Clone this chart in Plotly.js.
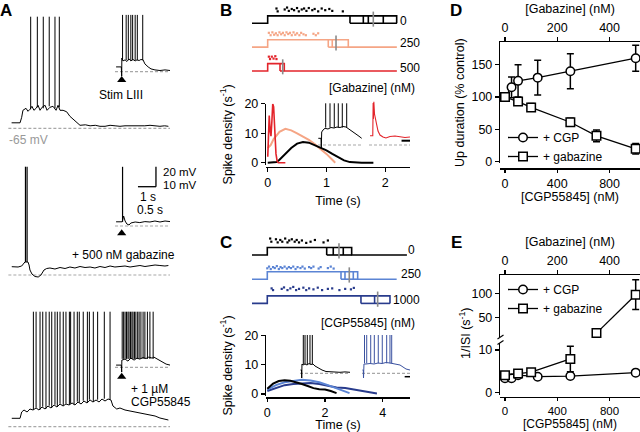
<!DOCTYPE html>
<html><head><meta charset="utf-8">
<script src="https://cdn.plot.ly/plotly-3.0.1.min.js"></script>
<style>html,body{margin:0;padding:0;background:#fff}#chart{width:640px;height:432px}</style>
</head><body><div id="chart"></div>
<script>
// ================= DATA =================
const REST_MV = -65;
// Panel A – whole-cell traces [time (s), Vm (mV)]
const a1Trace = [[0.2,-59.5],[0.67,-59.5],[0.76,-54],[0.83,-47],[1.0,-45],[1.11,-48],[1.22,-46],[1.33,-43],[1.44,-47],[1.56,-45],[1.67,-42],[1.78,-47],[1.89,-44],[2.06,-42],[2.17,-47],[2.33,-44],[2.5,-43],[2.67,-47],[2.78,-42],[2.89,-47],[3.06,-47],[3.26,-48.5],[3.44,-53],[3.61,-56],[3.78,-59],[4.0,-62],[4.3,-61.5],[4.56,-62.5],[4.85,-62],[5.11,-63],[5.39,-63],[5.67,-62],[5.95,-62.5],[6.22,-63],[6.5,-62.5],[6.78,-62.5],[7.05,-63],[7.33,-63],[7.6,-62.5],[7.89,-62],[8.15,-62.5],[8.44,-63],[8.7,-62.5],[8.91,-63]];
const a1SpikeT = [1.26,1.63,1.96,2.29,2.61,2.85];
const a1SpikeBase = [-46,-44,-45,-43,-45,-44];
const a1SpikePeak = 46.6;
const a1Inset = [[0.03,-62.6],[0.175,-62.6],[0.186,-67.2],[0.19,-58.2],[0.22,-59.6],[0.28,-59.1],[0.33,-59.9],[0.39,-58.6],[0.44,-59.6],[0.5,-58.9],[0.56,-59.6],[0.61,-59.1],[0.67,-59.4],[0.72,-58.9],[0.78,-59.1],[0.83,-61.1],[0.92,-62.6],[1.0,-63.6],[1.11,-64.1],[1.25,-64.4],[1.39,-64.1],[1.53,-64.4]];
const a1InsetSpikeT = [0.21,0.31,0.37,0.44,0.49,0.56,0.62,0.77];
const a1InsetSpikeBase = -59.2, a1InsetSpikePeak = -36.6;

const a2Trace = [[0.21,-56.7],[0.56,-57],[0.76,-56],[0.85,-54],[0.94,-52],[1.11,-52],[1.17,-55],[1.22,-60],[1.33,-64],[1.5,-66.5],[1.68,-67],[1.83,-65],[2.0,-60],[2.15,-58.5],[2.33,-58],[2.61,-59],[2.89,-57.5],[3.17,-58.5],[3.44,-57],[3.72,-58],[4.0,-56.5],[4.28,-57.5],[4.56,-57],[4.83,-58],[5.11,-56.5],[5.39,-57.5],[5.67,-56],[5.94,-57],[6.22,-56.5],[6.5,-56],[6.78,-57],[7.06,-56],[7.33,-55.5],[7.61,-56.5],[7.89,-56],[8.17,-55],[8.44,-55.5],[8.72,-56],[8.91,-55.5]];
const a2SpikeT = [0.97,1.06];
const a2SpikeBase = -52, a2SpikePeak = 43.3;
const a2Inset = [[0.03,-62.9],[0.2,-62.9],[0.24,-60],[0.28,-62.5],[0.33,-64],[0.39,-64.5],[0.44,-63.5],[0.56,-63],[0.69,-63.3],[0.83,-62.8],[0.97,-63],[1.11,-62.5],[1.25,-63],[1.39,-62.5],[1.53,-62.8]];
const a2InsetSpikeT = [0.21];
const a2InsetSpikeBase = -62.9, a2InsetSpikePeak = -35.4;

const a3Trace = [[0.21,-56.6],[0.67,-56.6],[0.76,-50.3],[0.89,-48.3],[1.06,-50.3],[1.22,-47.3],[1.39,-48.3],[1.56,-46.3],[1.72,-48.3],[1.89,-45.3],[2.06,-47.3],[2.22,-44.3],[2.39,-46.3],[2.56,-43.3],[2.72,-45.3],[2.89,-42.3],[3.06,-44.3],[3.22,-42.3],[3.39,-43.3],[3.56,-41.3],[3.72,-43.3],[3.89,-40.3],[4.06,-42.3],[4.22,-39.3],[4.39,-41.3],[4.56,-38.3],[4.72,-40.3],[4.89,-38.3],[5.06,-40.3],[5.22,-37.3],[5.39,-39.3],[5.56,-37.3],[5.72,-38.3],[5.83,-44.3],[6.04,-47.3],[6.22,-46.3],[6.5,-48.3],[6.78,-49.3],[7.06,-50.3],[7.33,-51.3],[7.61,-52.3],[7.89,-53.3],[8.17,-54.3],[8.44,-56.3],[8.72,-57.3],[8.91,-58.3]];
const a3SpikeT = [1.41,1.56,1.78,1.93,2.11,2.29,2.43,2.61,2.74,2.89,3.07,3.22,3.41,3.48,3.67,3.85,3.96,4.18,4.41,4.52,4.74,4.98,5.35,5.67];
const a3SpikeBase = [-48,-46,-48,-45,-47,-44,-46,-43,-45,-42,-44,-42,-43,-42,-43,-40,-41,-39,-41,-38,-40,-38,-37,-38];
const a3SpikePeak = 50;
const a3Inset = [[0.03,-63.9],[0.175,-63.9],[0.186,-67.4],[0.19,-61.4],[0.28,-60.9],[0.36,-61.9],[0.44,-60.4],[0.53,-61.4],[0.61,-60.4],[0.69,-60.9],[0.78,-60.1],[0.86,-60.6],[0.94,-59.9],[1.03,-60.4],[1.08,-59.9],[1.17,-60.9],[1.25,-61.9],[1.33,-62.4],[1.42,-63.4],[1.53,-63.9]];
const a3InsetSpikeT = [0.2,0.24,0.28,0.32,0.36,0.39,0.43,0.47,0.5,0.54,0.58,0.63,0.67,0.72,0.78,0.83,0.9,0.97,1.06];
const a3InsetSpikeBase = -60.8, a3InsetSpikePeak = -37.2;

const aMainBaselineSpan = [0.02, 9.0];
const aInsetBaselineSpan = [0.0, 1.53];
const aStimT = [0.186, 0.186, 0.186];
const aStimMarkV = [-69.15, -68.65, -69.7];
// scale bar of panel A (1 s, 20 mV for main traces)
const scaleBarT = 8.22, scaleBarV = 23.3, scaleBarSec = 1, scaleBarMV = 20;

// Panel B – Up-state schematics (gabazine 0, 250, 500 nM)
const bRowLabels = ['0','250','500'];
const bOnset = 0;
const bRowBoxes = [[1.402,1.629,1.714,1.969,2.197],[1.032,1.100,1.373],[0.21,0.283]];
const bRowMean = [1.799,1.164,0.256];
const bRowSpan = [-0.267, 2.2];
const bDots0T = [0.15,0.17,0.29,0.33,0.36,0.41,0.45,0.5,0.53,0.58,0.62,0.66,0.7,0.76,0.8,0.86,0.92,0.98,1.05,1.1,1.28];
const bDots0O = [0.62,0.5,0.58,0.66,0.52,0.6,0.55,0.64,0.5,0.58,0.62,0.52,0.64,0.55,0.6,0.5,0.62,0.55,0.6,0.52,0.5];
const bDots1T = [0.02,0.05,0.08,0.11,0.14,0.17,0.2,0.23,0.26,0.29,0.32,0.35,0.38,0.41,0.44,0.47,0.5,0.54,0.57,0.61,0.65,0.78,0.82,0.86];
const bDots1O = [0.6,0.5,0.62,0.52,0.58,0.5,0.62,0.54,0.6,0.5,0.62,0.55,0.6,0.5,0.62,0.52,0.58,0.5,0.6,0.54,0.5,0.56,0.5,0.58];
const bDots2T = [0.02,0.04,0.07,0.1,0.13,0.15];
const bDots2O = [0.6,0.5,0.6,0.52,0.62,0.5];
// Panel B – spike density (s^-1) vs time (s)
const bRedT = [0,0.01,0.025,0.04,0.055,0.07,0.085,0.1,0.12,0.14,0.16,0.18,0.25,0.3];
const bRedY = [2,12,16,11,9,14,20,19,10,3,0.5,0,0,0];
const bSalmonT = [0,0.05,0.1,0.2,0.3,0.4,0.5,0.6,0.7,0.8,0.9,1.0,1.1,1.15];
const bSalmonY = [5,6,8,10.5,11.5,11,10,9,7.8,6.3,4.8,3,1,0];
const bBlackT = [0,0.1,0.15,0.2,0.3,0.4,0.5,0.6,0.7,0.8,0.9,1.0,1.1,1.2,1.3,1.4,1.5,1.6,1.8];
const bBlackY = [0,0,0.2,1,3,5,6.5,7,6.8,6,5.2,4.2,3,1.8,0.8,0.2,0,0,0];
const bInsetBlack = [[0.007,-61.65],[0.068,-61.65],[0.075,-66.5],[0.084,-58.5],[0.114,-57.5],[0.159,-56.65],[0.227,-57],[0.295,-56.25],[0.364,-56.5],[0.432,-56],[0.5,-56.25],[0.568,-55.75],[0.636,-56],[0.705,-57],[0.773,-58],[0.841,-59],[0.909,-60.25],[0.993,-61.65]];
const bInsetBlackSpikeT = [0.175,0.273,0.37,0.461,0.552,0.652];
const bInsetBlackSpikeBase = -56.3, bInsetBlackSpikePeak = -44.15;
const bInsetRed = [[0.023,-60.35],[0.086,-60.35],[0.094,-44],[0.1,-52],[0.11,-43.4],[0.125,-49.5],[0.148,-52.5],[0.175,-55.5],[0.205,-58],[0.25,-60],[0.318,-61],[0.386,-61.5],[0.477,-60.75],[0.591,-60.5],[0.705,-61],[0.818,-61.25],[0.932,-61]];
const bInsetBaselineSpan = [[0,1],[0,0.932]];

// Panel C – Up-state schematics (CGP55845 0, 250, 1000 nM)
const cRowLabels = ['0','250','1000'];
const cOnset = 0;
const cRowBoxes = [[2.059,2.287,2.634,2.925],[2.555,2.693,2.981,3.133],[3.247,3.72,4.253]];
const cRowMean = [2.485,2.842,3.826];
const cRowStart = -0.53;
const cRowEnd = [4.84,4.485,4.253];
const cDots0T = [0.1,0.14,0.3,0.36,0.45,0.52,0.62,0.7,0.76,0.85,0.95,1.02,1.1,1.2,1.35,1.5,1.65,1.95,2.1];
const cDots0O = [0.68,0.55,0.65,0.52,0.62,0.55,0.68,0.52,0.6,0.65,0.55,0.62,0.52,0.6,0.5,0.55,0.62,0.52,0.6];
const cDots1T = [0.0,0.06,0.12,0.2,0.26,0.33,0.4,0.46,0.52,0.6,0.68,0.75,0.82,0.9,0.98,1.05,1.15,1.22,1.3,1.45,1.52,1.6,1.78,1.85,2.1,2.2,2.3];
const cDots1O = [0.45,0.52,0.42,0.5,0.46,0.54,0.42,0.5,0.46,0.52,0.44,0.5,0.46,0.52,0.42,0.5,0.46,0.52,0.44,0.5,0.46,0.52,0.44,0.5,0.46,0.52,0.44];
const cDots2T = [0.15,0.2,0.5,0.58,0.7,0.8,0.9,1.0,1.1,1.25,1.35,1.45,1.6,1.75,1.9,2.1,2.25,2.5,2.7,2.9,3.0];
const cDots2O = [0.62,0.55,0.6,0.66,0.55,0.62,0.68,0.55,0.6,0.65,0.55,0.62,0.58,0.65,0.55,0.6,0.62,0.55,0.6,0.58,0.64];
const cBlackT = [0,0.2,0.4,0.6,0.8,1.0,1.2,1.4,1.6,1.8,2.0,2.2,2.4];
const cBlackY = [1.8,3.5,4.4,4.7,4.5,4,3.4,2.7,2,1.6,1.5,1.0,0.3];
const cLightT = [0,0.3,0.6,0.9,1.2,1.5,1.8,2.1,2.4,2.7,2.85];
const cLightY = [1.5,3,4,4.5,4.8,4.6,4,3,2,0.8,0.3];
const cDarkT = [0,0.3,0.6,0.9,1.2,1.5,1.8,2.1,2.4,2.7,3.0,3.3,3.6,3.8];
const cDarkY = [1,2,3,3.4,3.6,3.7,3.4,2.8,2.2,2,1.6,1,0.5,0.2];
const cInsetBlack = [[0.011,-63.35],[0.034,-63.35],[0.039,-67.35],[0.045,-60.35],[0.068,-60.85],[0.114,-60.35],[0.159,-60.85],[0.205,-60.1],[0.25,-60.6],[0.295,-60.35],[0.341,-61.35],[0.409,-62.35],[0.5,-63.35],[0.591,-64.1],[0.682,-64.3],[0.795,-64.3],[0.909,-64.5],[1.023,-64.3],[1.136,-64.5]];
const cInsetBlackSpikeT = [0.075,0.114,0.166,0.227,0.28];
const cInsetBlackSpikeBase = -60.5, cInsetSpikePeak = -45.85;
const cInsetBlue = [[0.011,-63.35],[0.03,-63.35],[0.034,-67.35],[0.045,-60.35],[0.091,-60.35],[0.182,-60.1],[0.273,-60.35],[0.364,-59.85],[0.455,-60.1],[0.545,-59.6],[0.636,-59.85],[0.727,-60.1],[0.795,-60.35],[0.864,-60.85],[0.932,-61.85],[1.0,-62.85],[1.091,-63.35]];
const cInsetBlueSpikeT = [0.057,0.107,0.198,0.28,0.37,0.461,0.561,0.636,0.675];
const cInsetBlueSpikeBase = -60;
const cInsetBaselineSpan = [[0,1.136],[0,1.091]];

// Panel D – Up duration (% control)
const dCgpX = [0,50,100,250,500,1000];
const dCgpY = [100,115,125,130,140,160];
const dCgpErr = [0,16,25,27,27,20];
const dGabX = [0,50,100,250,350,500];
const dGabY = [100,93,84,61,40,20];
const dGabErr = [0,5,6,6,9,8];
// Panel E – 1/ISI (s^-1)
const eCgpX = [0,50,100,250,500,1000];
const eCgpY = [3.4,3.4,4.1,3.75,3.9,4.7];
const eCgpErr = [0.3,0.3,0.3,0.3,0.3,0.3];
const eGabLowX = [0,50,100,250];
const eGabLowY = [4.1,4.5,4.8,7.9];
const eGabLowErr = [0.4,0.5,0.4,3.0];
const eGabHighX = [350,500];
const eGabHighY = [17,97];
const eGabHighErr = [0,31];

// ================= STYLE / LAYOUT =================
const W = 640, H = 432;
const FONT = 'Liberation Sans, Arial, Helvetica, sans-serif';
const COL = {black:'#000000', salmon:'#f5a585', red:'#e3242b', lblue:'#5b84d4', dblue:'#283b8c', iblue:'#3b52a0', gray:'#9a9a9a', mean:'#8a8a8a'};
const dx = (a,b) => [a/W, b/W];
const dy = (top,bottom) => [1-bottom/H, 1-top/H];
const id = n => (n===1 ? '' : String(n));

const traces = [];
const layout = {
  width:W, height:H, margin:{l:0,r:0,t:0,b:0}, paper_bgcolor:'#fff', plot_bgcolor:'rgba(0,0,0,0)',
  font:{family:FONT, size:12, color:'#000'}, showlegend:true,
  shapes:[], annotations:[],
  legend:{x:503/W, y:1-123/H, xanchor:'left', yanchor:'top', bgcolor:'rgba(0,0,0,0)', font:{size:12}, itemwidth:30, tracegroupgap:0},
  legend2:{x:503/W, y:1-275/H, xanchor:'left', yanchor:'top', bgcolor:'rgba(0,0,0,0)', font:{size:12}, itemwidth:30, tracegroupgap:0}
};

function hiddenAxes(n, xd, yd, xr, yr) {
  layout['xaxis'+id(n)] = {domain:xd, range:xr, visible:false, anchor:'y'+id(n), fixedrange:true};
  layout['yaxis'+id(n)] = {domain:yd, range:yr, visible:false, anchor:'x'+id(n), fixedrange:true};
}
const tickStyle = {showline:true, linecolor:'#000', linewidth:1.2, ticks:'outside', ticklen:4, tickwidth:1.2, tickcolor:'#000',
  showgrid:false, zeroline:false, tickfont:{size:12.5}, fixedrange:true};

function addLine(n, xs, ys, color, width, extra) {
  traces.push(Object.assign({type:'scatter', mode:'lines', x:xs, y:ys, xaxis:'x'+id(n), yaxis:'y'+id(n),
    line:{color:color, width:width}, hoverinfo:'skip', showlegend:false, cliponaxis:false, connectgaps:false}, extra||{}));
}
function addTrace(n, pairs, color, width) { addLine(n, pairs.map(p=>p[0]), pairs.map(p=>p[1]), color, width); }
function addSpikes(n, times, base, peak, color, width) {
  const x=[], y=[];
  times.forEach((t,i) => { x.push(t,t,null); y.push(Array.isArray(base)?base[i]:base, peak, null); });
  addLine(n, x, y, color, width);
}
function addBaseline(n, span) { addLine(n, span, [REST_MV, REST_MV], COL.gray, 1.2, {line:{color:'#a8a8a8', width:1.2, dash:'3px,2px'}}); }
function addStim(n, t, v) {
  traces.push({type:'scatter', mode:'markers', x:[t], y:[v], xaxis:'x'+id(n), yaxis:'y'+id(n),
    marker:{symbol:'triangle-up', size:8, color:'#000'}, hoverinfo:'skip', showlegend:false, cliponaxis:false});
}
function note(text, x, y, opts) {
  layout.annotations.push(Object.assign({text:text, x:x/W, y:1-y/H, xref:'paper', yref:'paper', showarrow:false,
    xanchor:'center', yanchor:'middle', borderpad:0, font:{size:12, color:'#000', family:FONT}}, opts||{}));
}

// ---------- Panel A ----------
hiddenAxes(1, dx(8,172), dy(10,135), [0,9.111], [-71.7,53.3]);
hiddenAxes(2, dx(115,170), dy(12,84), [0,1.528], [-71.15,-35.15]);
hiddenAxes(3, dx(8,172), dy(160,282), [0,9.111], [-72,50]);
hiddenAxes(4, dx(115,170), dy(160,238), [0,1.528], [-71,-32]);
hiddenAxes(5, dx(8,172), dy(305,432), [0,9.111], [-70.3,56.7]);
hiddenAxes(6, dx(115,170), dy(305,382), [0,1.528], [-72.35,-33.85]);

[1,3,5].forEach(n => addBaseline(n, aMainBaselineSpan));
[2,4,6].forEach(n => addBaseline(n, aInsetBaselineSpan));
addTrace(1, a1Trace, COL.black, 1); addSpikes(1, a1SpikeT, a1SpikeBase, a1SpikePeak, COL.black, 1);
addTrace(2, a1Inset, COL.black, 1); addSpikes(2, a1InsetSpikeT, a1InsetSpikeBase, a1InsetSpikePeak, COL.black, 1);
addTrace(3, a2Trace, COL.black, 1); addSpikes(3, a2SpikeT, a2SpikeBase, a2SpikePeak, COL.black, 1.2);
addTrace(4, a2Inset, COL.black, 1); addSpikes(4, a2InsetSpikeT, a2InsetSpikeBase, a2InsetSpikePeak, COL.black, 1.2);
addTrace(5, a3Trace, COL.black, 1); addSpikes(5, a3SpikeT, a3SpikeBase, a3SpikePeak, COL.black, 1);
addTrace(6, a3Inset, COL.black, 1); addSpikes(6, a3InsetSpikeT, a3InsetSpikeBase, a3InsetSpikePeak, COL.black, 1);
[2,4,6].forEach((n,i) => addStim(n, aStimT[i], aStimMarkV[i]));
// scale bar (data coordinates of the second main trace)
layout.shapes.push({type:'line', xref:'x3', yref:'y3', x0:scaleBarT-scaleBarSec, x1:scaleBarT, y0:scaleBarV, y1:scaleBarV, line:{color:'#000', width:1.3}});
layout.shapes.push({type:'line', xref:'x3', yref:'y3', x0:scaleBarT, x1:scaleBarT, y0:scaleBarV, y1:scaleBarV+scaleBarMV, line:{color:'#000', width:1.3}});

// ---------- Panel B / C rasters ----------
const UP_H = 0.31;
function rasterRow(n, row, onset, edges, t0, t1, mean, color) {
  const y0 = -row, hi = -row + UP_H, e0 = edges[0], eN = edges[edges.length-1];
  const x = [t0, onset, onset, eN, eN, t1, null, e0, eN, null];
  const y = [y0, y0, hi, hi, y0, y0, null, y0, y0, null];
  edges.slice(0,-1).forEach(e => { x.push(e,e,null); y.push(y0,hi,null); });
  addLine(n, x, y, color, 1.6);
  addLine(n, [mean,mean], [y0-0.14, hi+0.18], COL.mean, 1.6);
}
function rasterDots(n, row, times, offs, color) {
  traces.push({type:'scatter', mode:'markers', x:times, y:offs.map(o => -row + o), xaxis:'x'+id(n), yaxis:'y'+id(n),
    marker:{symbol:'square', size:2.2, color:color, line:{width:0}}, hoverinfo:'skip', showlegend:false, cliponaxis:false});
}
hiddenAxes(7, dx(252,410), dy(3,76), [-0.267,2.424], [-2.21,0.851]);
const bColors = [COL.black, COL.salmon, COL.red];
bRowBoxes.forEach((edges,r) => rasterRow(7, r, bOnset, edges, bRowSpan[0], bRowSpan[1], bRowMean[r], bColors[r]));
rasterDots(7, 0, bDots0T, bDots0O, bColors[0]);
rasterDots(7, 1, bDots1T, bDots1O, bColors[1]);
rasterDots(7, 2, bDots2T, bDots2O, bColors[2]);

hiddenAxes(11, dx(252,410), dy(236,308), [-0.53,4.947], [-2.19,0.785]);
const cColors = [COL.black, COL.lblue, COL.dblue];
cRowBoxes.forEach((edges,r) => rasterRow(11, r, cOnset, edges, cRowStart, cRowEnd[r], cRowMean[r], cColors[r]));
rasterDots(11, 0, cDots0T, cDots0O, cColors[0]);
rasterDots(11, 1, cDots1T, cDots1O, cColors[1]);
rasterDots(11, 2, cDots2T, cDots2O, cColors[2]);

// ---------- Panel B density ----------
layout.xaxis8 = Object.assign({}, tickStyle, {domain:dx(266,410), range:[-0.03,2.424], anchor:'free', position:1-167/H,
  tickvals:[0,1,2], title:{text:'Time (s)', standoff:7, font:{size:12.5}}});
layout.yaxis8 = Object.assign({}, tickStyle, {domain:dy(103.7,165), range:[-0.78,20.05], anchor:'x8',
  tickvals:[0,10,20], title:{text:'Spike density (s<sup>-1</sup>)', standoff:9, font:{size:12.5}}});
addLine(8, bSalmonT, bSalmonY, COL.salmon, 2);
addLine(8, bBlackT, bBlackY, COL.black, 2);
addLine(8, bRedT, bRedY, COL.red, 1.6);
hiddenAxes(9, dx(318,362), dy(100,150), [0,1], [-67.5,-42.5]);
hiddenAxes(10, dx(369,410), dy(100,150), [0,0.932], [-67.5,-42.5]);
addBaseline(9, bInsetBaselineSpan[0]); addBaseline(10, bInsetBaselineSpan[1]);
addTrace(9, bInsetBlack, COL.black, 1);
addSpikes(9, bInsetBlackSpikeT, bInsetBlackSpikeBase, bInsetBlackSpikePeak, COL.black, 1);
addTrace(10, bInsetRed, COL.red, 1.1);
layout.shapes.push({type:'line', xref:'x10', yref:'y10', x0:0.74, x1:0.932, y0:-62.85, y1:-62.85, line:{color:'#000', width:2}});

// ---------- Panel C density ----------
layout.xaxis12 = Object.assign({}, tickStyle, {domain:dx(266,410), range:[-0.045,4.946], anchor:'free', position:1-397.3/H,
  tickvals:[0,2,4], ticklen:3, title:{text:'Time (s)', standoff:3, font:{size:12.5}}});
layout.yaxis12 = Object.assign({}, tickStyle, {domain:dy(335,396), range:[-0.68,20.05], anchor:'x12',
  tickvals:[0,10,20], title:{text:'Spike density (s<sup>-1</sup>)', standoff:9, font:{size:12.5}}});
addLine(12, cDarkT, cDarkY, COL.dblue, 2);
addLine(12, cLightT, cLightY, COL.lblue, 2);
addLine(12, cBlackT, cBlackY, COL.black, 2);
hiddenAxes(13, dx(300,350), dy(332,380), [0,1.136], [-68.35,-44.35]);
hiddenAxes(14, dx(362,410), dy(332,380), [0,1.091], [-68.35,-44.35]);
addBaseline(13, cInsetBaselineSpan[0]); addBaseline(14, cInsetBaselineSpan[1]);
addTrace(13, cInsetBlack, COL.black, 1);
addSpikes(13, cInsetBlackSpikeT, cInsetBlackSpikeBase, cInsetSpikePeak, COL.black, 1);
addTrace(14, cInsetBlue, COL.iblue, 1);
addSpikes(14, cInsetBlueSpikeT, cInsetBlueSpikeBase, cInsetSpikePeak, COL.iblue, 1);
layout.shapes.push({type:'line', xref:'x14', yref:'y14', x0:0.97, x1:1.091, y0:-66.7, y1:-66.7, line:{color:'#000', width:1.5}});

// ---------- Panel D ----------
layout.xaxis15 = Object.assign({}, tickStyle, {domain:dx(500,640), range:[-38.3,1033], anchor:'free', position:1-168.3/H,
  tickvals:[0,400,800], ticklen:3, title:{text:'[CGP55845] (nM)', standoff:2, font:{size:12.5}}});
layout.xaxis16 = Object.assign({}, tickStyle, {domain:dx(500,640), range:[-19.15,516.5], anchor:'y15', side:'top',
  tickvals:[0,200,400], title:{text:'[Gabazine] (nM)', standoff:4, font:{size:12.5}}});
layout.yaxis15 = Object.assign({}, tickStyle, {domain:dy(42,163.3), range:[-2.47,185.1], anchor:'x15',
  tickvals:[0,50,100,150], title:{text:'Up duration (% control)', standoff:4, font:{size:12.5}}});
function pointSeries(xa, ya, xs, ys, errs, symbol, name, legend, show) {
  traces.push({type:'scatter', mode:'lines+markers', x:xs, y:ys, xaxis:xa, yaxis:ya, name:name, legend:legend, showlegend:show,
    line:{color:'#000', width:1.3}, marker:{symbol:symbol, size:8.5, color:'#fff', line:{color:'#000', width:1.5}},
    error_y:{type:'data', array:errs, visible:true, color:'#000', thickness:1.5, width:3.5},
    hoverinfo:'skip', cliponaxis:false});
}
pointSeries('x15','y15', dCgpX, dCgpY, dCgpErr, 'circle', '+ CGP', 'legend', true);
pointSeries('x16','y15', dGabX, dGabY, dGabErr, 'square', '+ gabazine', 'legend', true);

// ---------- Panel E ----------
layout.xaxis17 = Object.assign({}, tickStyle, {domain:dx(500,640), range:[-38.3,1033], anchor:'free', position:1-397/H,
  tickvals:[0,400,800], ticklen:3, tickfont:{size:11.5}, title:{text:'[CGP55845] (nM)', standoff:3, font:{size:12}}});
layout.xaxis18 = Object.assign({}, tickStyle, {domain:dx(500,640), range:[-19.15,516.5], anchor:'y18', side:'top',
  tickvals:[0,200,400], title:{text:'[Gabazine] (nM)', standoff:4, font:{size:12.5}}});
layout.yaxis17 = Object.assign({}, tickStyle, {domain:dy(343.3,395), range:[-0.54,11.57], anchor:'x17', tickvals:[0,10]});
layout.yaxis18 = Object.assign({}, tickStyle, {domain:dy(275,337.3), range:[8.3,138], anchor:'x17', tickvals:[50,100]});
pointSeries('x17','y17', eCgpX, eCgpY, eCgpErr, 'circle', '+ CGP', 'legend2', true);
pointSeries('x18','y17', eGabLowX, eGabLowY, eGabLowErr, 'square', '+ gabazine', 'legend2', true);
pointSeries('x18','y18', eGabHighX, eGabHighY, eGabHighErr, 'square', '+ gabazine', 'legend2', false);
// axis break marks
[[497.5,339,503.5,335],[497.5,344.5,503.5,340.5]].forEach(s => layout.shapes.push({type:'line', xref:'paper', yref:'paper',
  x0:s[0]/W, y0:1-s[1]/H, x1:s[2]/W, y1:1-s[3]/H, line:{color:'#000', width:1.2}}));

// ---------- Text ----------
const bold = {size:17, family:FONT, color:'#000', weight:'bold'};
note('<b>A</b>', 6, 10.5, {font:bold});
note('<b>B</b>', 226, 10.5, {font:bold});
note('<b>C</b>', 226, 242, {font:bold});
note('<b>D</b>', 456, 10.5, {font:bold});
note('<b>E</b>', 456, 242, {font:bold});
note('-65 mV', 8, 140, {xanchor:'left', font:{size:12, color:'#999999', family:FONT}});
note('Stim LIII', 121, 94.5);
note('20 mV', 162, 172, {xanchor:'left', font:{size:11.5, color:'#000', family:FONT}});
note('10 mV', 162, 185, {xanchor:'left', font:{size:11.5, color:'#000', family:FONT}});
note('1 s', 147.5, 197.3);
note('0.5 s', 149.5, 209.8);
note('+ 500 nM gabazine', 123.5, 255);
note('+ 1 µM', 130, 388.5, {xanchor:'left'});
note('CGP55845', 130, 402, {xanchor:'left'});
note(bRowLabels[0], 399, 20.5, {xanchor:'left'});
note(bRowLabels[1], 399, 43.5, {xanchor:'left'});
note(bRowLabels[2], 399, 68, {xanchor:'left'});
note('[Gabazine] (nM)', 416, 88, {xanchor:'right'});
note(cRowLabels[0], 416, 250, {xanchor:'right'});
note(cRowLabels[1], 400, 274, {xanchor:'left'});
note(cRowLabels[2], 391.5, 299.5, {xanchor:'left'});
note('[CGP55845] (nM)', 416, 323, {xanchor:'right'});
note('1/ISI (s<sup>-1</sup>)', 465, 333, {textangle:-90, font:{size:12.5, color:'#000', family:FONT}});

Plotly.newPlot('chart', traces, layout, {staticPlot:true, displayModeBar:false});
</script>
</body></html>
